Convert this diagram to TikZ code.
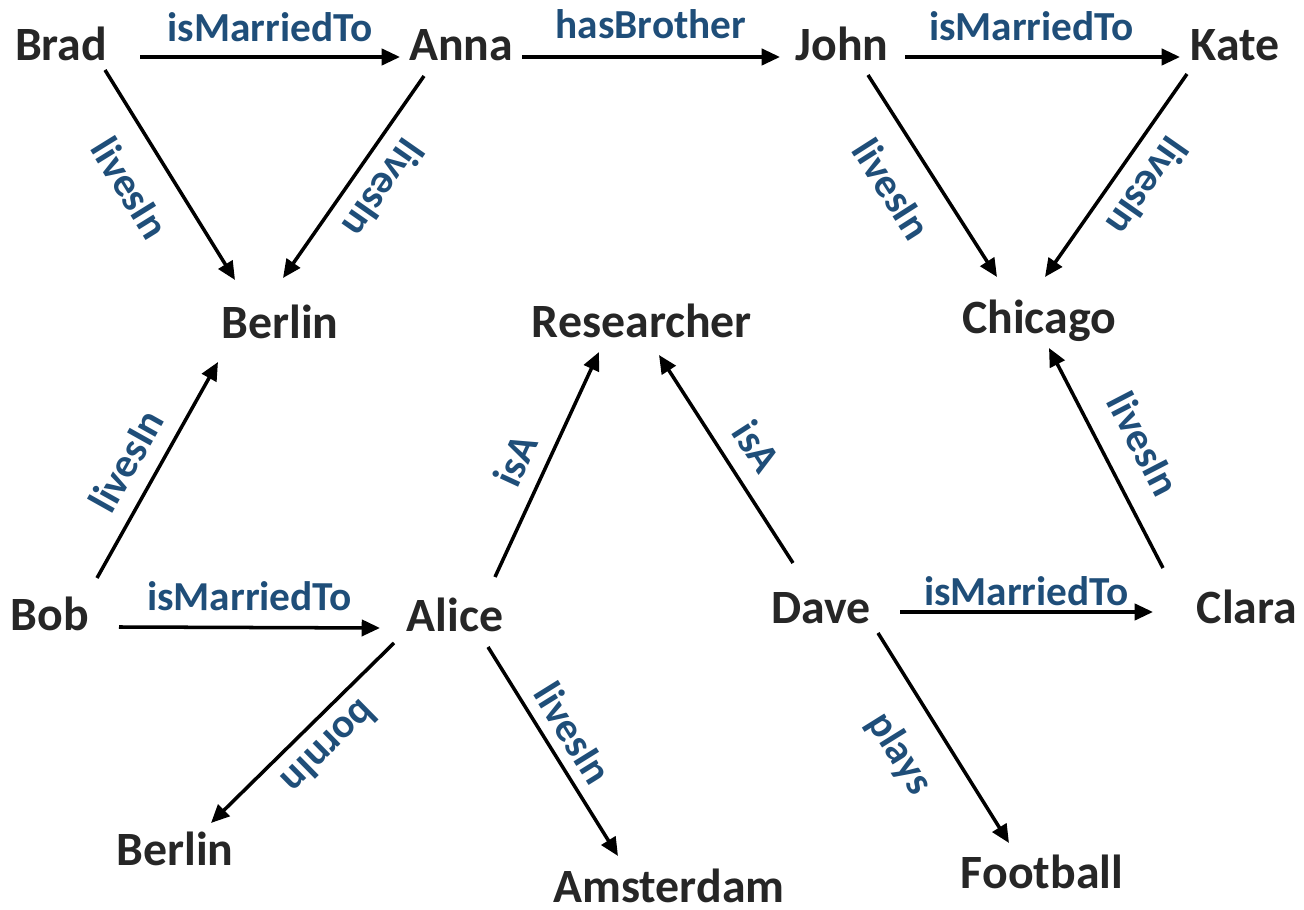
\documentclass[tikz,border=0pt]{standalone}
\usepackage{fontspec}
\setmainfont{Carlito}
\usepackage{xcolor}
\usetikzlibrary{arrows.meta}
\definecolor{ink}{HTML}{262626}
\definecolor{relblue}{HTML}{1F4E79}

\begin{document}
\begin{tikzpicture}[
        entity/.style={text=ink, font=\bfseries\fontsize{13.6}{16}\selectfont, inner sep=0pt, text height=8.7pt, text depth=6.9pt},
        rel/.style={-{Triangle[length=5.2pt, width=4.6pt]}, line width=1pt, black},
        lbl/.style={text=relblue, font=\bfseries\fontsize{11.75}{14}\selectfont, sloped, text height=8.1pt, text depth=0pt}
    ]
        \useasboundingbox (0,0) rectangle (13.04,-9.10);

        % Top row
        \node[entity] (brad) at (0.61,-0.57) {Brad};
        \node[entity] (anna) at (4.61,-0.57) {Anna};
        \node[entity] (john) at (8.42,-0.57) {John};
        \node[entity] (kate) at (12.35,-0.57) {Kate};

        % Middle row
        \node[entity] (berlin) at (2.80,-3.35) {Berlin};
        \node[entity] (researcher) at (6.42,-3.34) {Researcher};
        \node[entity] (chicago) at (10.39,-3.30) {Chicago};

        % Lower rows
        \node[entity] (bob) at (0.50,-6.27) {Bob};
        \node[entity] (alice) at (4.55,-6.28) {Alice};
        \node[entity] (dave) at (8.21,-6.20) {Dave};
        \node[entity] (clara) at (12.47,-6.20) {Clara};
        \node[entity] (berlin2) at (1.75,-8.62) {Berlin};
        \node[entity] (amsterdam) at (6.69,-8.99) {Amsterdam};
        \node[entity] (football) at (10.42,-8.85) {Football};

        % Relations, top
        \draw[rel] ([shift={(0.79,0)}]brad.center) -- node[lbl, above, inner sep=4pt] {isMarriedTo} ([shift={(-0.61,0)}]anna.center);
        \draw[rel] ([shift={(0.61,0)}]anna.center) -- node[lbl, above, inner sep=4.8pt] {hasBrother} ([shift={(-0.62,0)}]john.center);
        \draw[rel] ([shift={(0.63,0)}]john.center) -- node[lbl, above, inner sep=4.2pt, pos=.46] {isMarriedTo} ([shift={(-0.55,0)}]kate.center);
        \draw[rel] ([shift={(0.44,-0.13)}]brad.center) -- node[lbl, below, inner sep=7pt, pos=.46] {livesIn} ([shift={(-0.45,0.55)}]berlin.center);
        \draw[rel] ([shift={(-0.37,-0.19)}]anna.center) -- node[lbl, above, allow upside down, inner sep=4.5pt, pos=.47] {livesIn} ([shift={(0.03,0.57)}]berlin.center);
        \draw[rel] ([shift={(0.26,-0.18)}]john.center) -- node[lbl, below, inner sep=7.1pt, pos=.455] {livesIn} ([shift={(-0.42,0.53)}]chicago.center);
        \draw[rel] ([shift={(-0.48,-0.17)}]kate.center) -- node[lbl, above, allow upside down, inner sep=4.7pt, pos=.465] {livesIn} ([shift={(0.06,0.53)}]chicago.center);

        % Relations, bottom
        \draw[rel] ([shift={(0.47,0.49)}]bob.center) -- node[lbl, above, inner sep=4.5pt, pos=.47] {livesIn} ([shift={(-0.62,-0.27)}]berlin.center);
        \draw[rel] ([shift={(0.69,0)}]bob.center) -- node[lbl, above, inner sep=4.3pt] {isMarriedTo} ([shift={(-0.75,0)}]alice.center);
        \draw[rel] ([shift={(0.40,0.51)}]alice.center) -- node[lbl, above, inner sep=4.2pt, pos=.46] {isA} ([shift={(-0.43,-0.18)}]researcher.center);
        \draw[rel] ([shift={(-0.28,0.57)}]dave.center) -- node[lbl, above, inner sep=4.7pt, pos=.475] {isA} ([shift={(0.17,-0.21)}]researcher.center);
        \draw[rel] ([shift={(0.79,0.08)}]dave.center) -- node[lbl, above, inner sep=1.4pt] {isMarriedTo} ([shift={(-0.94,0.08)}]clara.center);
        \draw[rel] ([shift={(-0.84,0.52)}]clara.center) -- node[lbl, above, inner sep=6.8pt, pos=.48] {livesIn} ([shift={(0.10,-0.18)}]chicago.center);
        \draw[rel] ([shift={(-0.61,-0.15)}]alice.center) -- node[lbl, above, allow upside down, inner sep=3.8pt, pos=.465] {bornIn} ([shift={(0.36,0.39)}]berlin2.center);
        \draw[rel] ([shift={(0.33,-0.19)}]alice.center) -- node[lbl, above, inner sep=3.1pt, pos=.48] {livesIn} ([shift={(-0.51,0.43)}]amsterdam.center);
        \draw[rel] ([shift={(0.57,-0.13)}]dave.center) -- node[lbl, below, inner sep=7.6pt, pos=.46] {plays} ([shift={(-0.33,0.42)}]football.center);
    \end{tikzpicture}
\end{document}
